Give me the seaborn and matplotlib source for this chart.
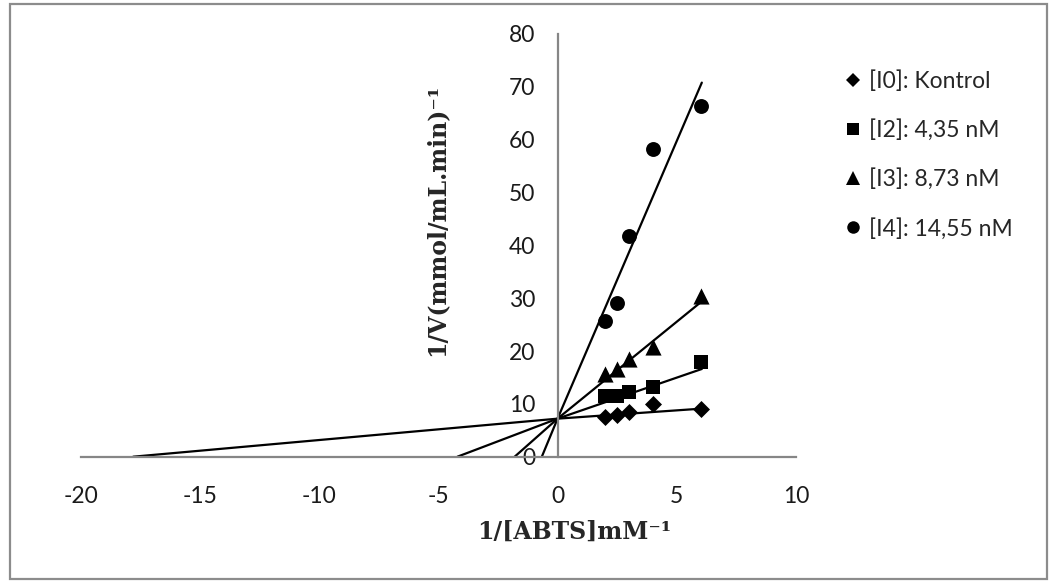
import matplotlib
matplotlib.use("Agg")
import matplotlib.pyplot as plt
import seaborn as sns
import pandas as pd
from matplotlib.lines import Line2D
from matplotlib.patches import Rectangle

# ---------------- data ----------------
inv_abts = [2, 2.5, 3, 4, 6]
series_labels = ["[I0]: Kontrol", "[I2]: 4,35 nM", "[I3]: 8,73 nM", "[I4]: 14,55 nM"]
inv_v_i0 = [7.6, 7.8, 8.4, 9.9, 9.0]
inv_v_i2 = [11.4, 11.4, 12.2, 13.2, 18.0]
inv_v_i3 = [15.6, 16.6, 18.5, 20.8, 30.5]
inv_v_i4 = [25.6, 29.1, 41.7, 58.3, 66.3]

# Lineweaver-Burk lines: x-intercept, common y-intercept, end point at x = 6
line_x_intercepts = [-17.8, -4.2, -1.8, -0.66]
line_y_intercept = 7.2
line_x_end = 6.05
line_y_ends = [9.1, 16.6, 29.4, 70.8]

x_ticks = [-20, -15, -10, -5, 0, 5, 10]
y_ticks = [0, 10, 20, 30, 40, 50, 60, 70, 80]

# ---------------- styling ----------------
sns.set_style("white")
plt.rcParams["font.family"] = ["Lato", "DejaVu Sans"]

markers = ["D", "s", "^", "o"]
marker_s = [75, 105, 135, 115]
legend_ms = [7.2, 8.8, 10.0, 9.0]
axis_grey = "#868686"
tick_fs = 16.5

series_values = [inv_v_i0, inv_v_i2, inv_v_i3, inv_v_i4]
points = pd.DataFrame({
    "x": inv_abts * 4,
    "y": [v for vals in series_values for v in vals],
    "series": [lab for lab in series_labels for _ in inv_abts],
})
lines = pd.DataFrame({
    "x": [v for xi in line_x_intercepts for v in (xi, 0, line_x_end)],
    "y": [v for ye in line_y_ends for v in (0, line_y_intercept, ye)],
    "series": [lab for lab in series_labels for _ in range(3)],
})

fig = plt.figure(figsize=(10.53, 5.83), dpi=100)
ax = fig.add_axes([80.7 / 1053, 1 - 456.7 / 583, 715.3 / 1053, 422.7 / 583])

for lab in series_labels:
    sub = lines[lines.series == lab]
    sns.lineplot(data=sub, x="x", y="y", ax=ax, color="black", lw=1.6,
                 sort=False, estimator=None, legend=False)

for lab, m, s in zip(series_labels, markers, marker_s):
    sub = points[points.series == lab]
    sns.scatterplot(data=sub, x="x", y="y", ax=ax, marker=m, s=s,
                    color="black", linewidth=0, legend=False, zorder=3)

ax.set_xlim(-20, 10)
ax.set_ylim(0, 80)
ax.set_xticks(x_ticks)
ax.set_yticks(y_ticks)
ax.set_xticklabels([str(t) for t in x_ticks])
ax.set_yticklabels([str(t) for t in y_ticks])

for side in ["top", "right"]:
    ax.spines[side].set_visible(False)
ax.spines["left"].set_position(("data", 0))
ax.spines["bottom"].set_position(("data", 0))
for side in ["left", "bottom"]:
    ax.spines[side].set_color(axis_grey)
    ax.spines[side].set_linewidth(1.6)

ax.tick_params(axis="x", direction="out", length=5, width=1.6, color=axis_grey,
               labelsize=tick_fs, labelcolor="#1a1a1a", pad=16)
ax.tick_params(axis="y", direction="out", length=4, width=1.6, color=axis_grey,
               labelsize=tick_fs, labelcolor="#1a1a1a", pad=12)

label_font = dict(family="DejaVu Serif", weight="bold", size=17)
ax.set_xlabel("1/[ABTS]mM\u207b\u00b9", fontdict=label_font, va="center")
ax.set_ylabel("1/V(mmol/mL.min)\u207b\u00b9", fontdict=label_font, va="center")
ax.xaxis.set_label_coords((574 - 80.7) / 715.3, (456.7 - 532) / 422.7)
ax.yaxis.set_label_coords((436 - 80.7) / 715.3, (456.7 - 220) / 422.7)

handles = [Line2D([], [], ls="none", marker=m, color="black", markersize=ms,
                  markeredgewidth=0)
           for m, ms in zip(markers, legend_ms)]
fig.legend(handles, series_labels, loc="upper left",
           bbox_to_anchor=(844.7 / 1053, 1 - 70 / 583),
           bbox_transform=fig.transFigure, frameon=False,
           prop=dict(family="Lato", size=tick_fs), labelspacing=1.2,
           handlelength=0.75, handletextpad=0.3, borderpad=0, borderaxespad=0)

fig.patches.append(Rectangle((10 / 1053, 4 / 583), 1037 / 1053, 575 / 583,
                             transform=fig.transFigure, fill=False,
                             edgecolor="#8c8c8c", linewidth=1.6))

fig.savefig("out.png", dpi=100)
